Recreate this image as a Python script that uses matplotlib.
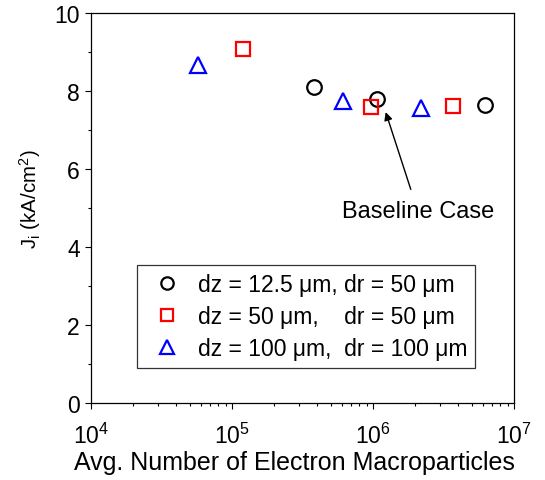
import matplotlib
matplotlib.use("Agg")
import matplotlib.pyplot as plt

# Datos
dz125_x = [3.8e5, 1.07e6, 6.2e6]
dz125_y = [8.09, 7.79, 7.65]
dz50_x = [1.2e5, 9.6e5, 3.67e6]
dz50_y = [9.08, 7.60, 7.62]
dz100_x = [5.7e4, 6.1e5, 2.2e6]
dz100_y = [8.67, 7.75, 7.56]

etiquetas = ["dz = 12.5 \u03bcm, dr = 50 \u03bcm",
             "dz = 50 \u03bcm,    dr = 50 \u03bcm",
             "dz = 100 \u03bcm,  dr = 100 \u03bcm"]

plt.rcParams['font.family'] = ['Liberation Sans', 'DejaVu Sans']
plt.rcParams['mathtext.fontset'] = 'custom'
plt.rcParams['mathtext.rm'] = 'Liberation Sans'
plt.rcParams['mathtext.it'] = 'Liberation Sans'

fig = plt.figure(figsize=(5.45, 4.81), dpi=100)
ax = fig.add_axes([91/545, 1 - 404/481, 423/545, 390/481])

ax.plot(dz125_x, dz125_y, 'o', ms=10.5, mfc='none', mec='black', mew=1.6,
        label=etiquetas[0])
ax.plot(dz50_x, dz50_y, 's', ms=9.5, mfc='none', mec='red', mew=1.6,
        label=etiquetas[1])
ax.plot(dz100_x, dz100_y, '^', ms=12, mfc='none', mec='blue', mew=1.6,
        label=etiquetas[2])

ax.set_xscale('log')
ax.set_xlim(1e4, 1e7)
ax.set_ylim(0, 10)
ax.set_yticks([0, 2, 4, 6, 8, 10])
ax.set_yticks([1, 3, 5, 7, 9], minor=True)

ax.tick_params(axis='both', which='major', labelsize=16.5, length=4.5, width=0.8,
               direction='out')
ax.tick_params(axis='x', which='major', pad=9.5)
ax.tick_params(axis='both', which='minor', length=2.5, width=0.8, direction='out')
for s in ax.spines.values():
    s.set_linewidth(0.9)

ax.set_xlabel('Avg. Number of Electron Macroparticles', fontsize=18)
ax.xaxis.set_label_coords(0.482, -0.12)
ax.set_ylabel(r'J$_\mathregular{i}$ (kA/cm$^\mathregular{2}$)', fontsize=14.8)
ax.yaxis.set_label_coords(-0.114, 0.526)

ax.annotate('Baseline Case', xy=(1.23e6, 7.46), xytext=(2.08e6, 4.92),
            fontsize=17, ha='center', va='center',
            arrowprops=dict(arrowstyle='-|>', color='black', lw=1.0,
                            mutation_scale=12, shrinkA=6, shrinkB=0))

leg = ax.legend(loc='lower left', bbox_to_anchor=(0.109, 0.09), fontsize=16.5,
                frameon=True, fancybox=False, edgecolor='black',
                handletextpad=0.35, borderpad=0.35, labelspacing=0.38,
                handlelength=1.95, markerscale=0.85, borderaxespad=0)
leg.get_frame().set_linewidth(0.9)

plt.savefig('out.png', dpi=100)
